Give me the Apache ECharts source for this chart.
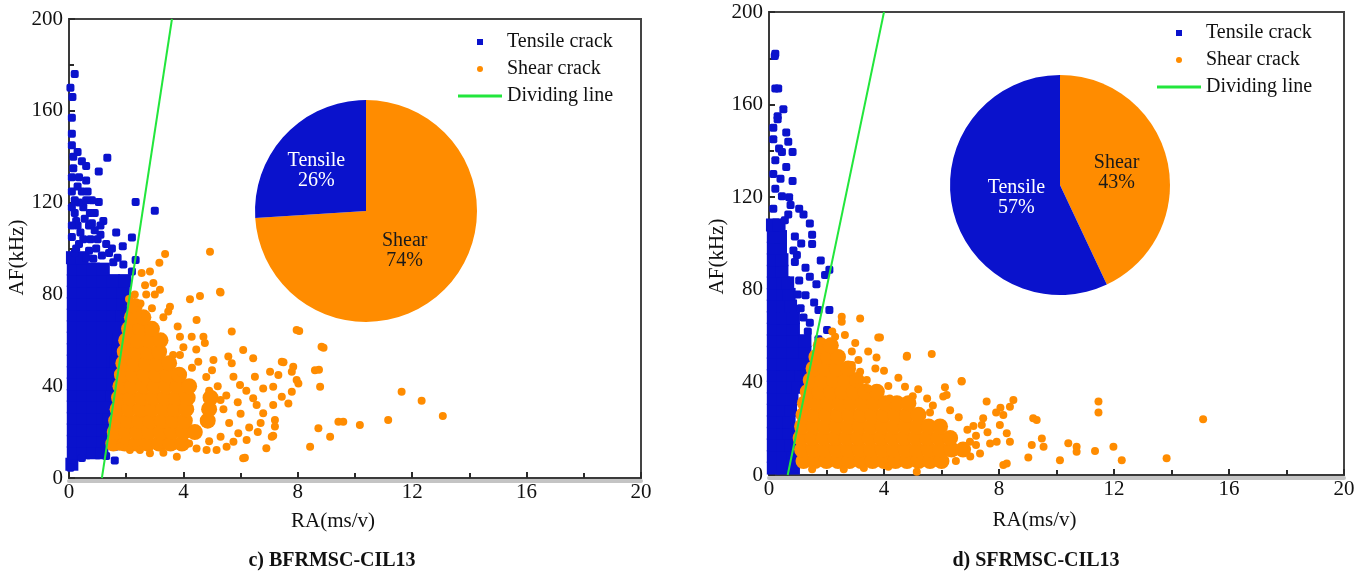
<!DOCTYPE html>
<html><head><meta charset="utf-8">
<script src="https://cdn.jsdelivr.net/npm/echarts@6/dist/echarts.min.js"></script>
<style>html,body{margin:0;padding:0;background:#fff}#c{width:1361px;height:577px}</style>
</head><body><div id="c"></div>
<script>
// ---------- DATA ----------
const xRange = [0, 20];
const yRange = [0, 200];
const captions = ['c) BFRMSC-CIL13', 'd) SFRMSC-CIL13'];
const seriesNames = ['Tensile crack', 'Shear crack', 'Dividing line'];

// Left chart (BFRMSC-CIL13) — dense regions as rows: [AF, RA, RA, ...]
const tensileDenseL = [
  [6, 0.1],
  [11, 0.15, 0.5, 0.85, 1.15],
  [16, 0.15, 0.5, 0.85, 1.2],
  [21, 0.15, 0.5, 0.85, 1.2],
  [26, 0.15, 0.5, 0.85, 1.2, 1.4],
  [31, 0.15, 0.5, 0.85, 1.2, 1.45],
  [36, 0.15, 0.5, 0.85, 1.2, 1.5],
  [41, 0.15, 0.5, 0.85, 1.2, 1.55],
  [46, 0.15, 0.5, 0.85, 1.2, 1.55],
  [51, 0.15, 0.5, 0.85, 1.2, 1.55, 1.65],
  [56, 0.15, 0.5, 0.85, 1.2, 1.55, 1.7],
  [61, 0.15, 0.5, 0.85, 1.2, 1.55, 1.75],
  [66, 0.15, 0.5, 0.85, 1.2, 1.55, 1.8],
  [71, 0.15, 0.5, 0.85, 1.2, 1.55, 1.85],
  [76, 0.15, 0.5, 0.85, 1.2, 1.55, 1.9],
  [81, 0.15, 0.5, 0.85, 1.2, 1.55, 1.9],
  [86, 0.15, 0.5, 0.85, 1.2, 1.55, 1.95],
  [91, 0.15, 0.5, 0.85, 1.2],
  [96, 0.12, 0.45]
];
const tensileSparseL = [
  [0.2,176],[0.12,166],[0.1,157],[0.1,150],[0.3,142],[0.45,138],[0.6,136],[1.34,139.5],[1.04,133.6],
  [0.1,131],[0.6,129.6],[0.1,124.8],[0.45,124.8],[0.65,124.8],[2.33,120.3],[1.04,120.3],[3.0,116.5],
  [0.2,115.5],[0.73,115.5],[0.9,115.5],[1.2,112],[1.1,110],[1.65,107],[2.2,104.8],[0.7,110],[0.9,108],
  [1.88,101],[1.4,98],[2.33,95],[0.1,118],[0.5,118],[0.3,110],[0.1,105],[0.5,104],[1.0,104],[1.3,102],
  [0.2,98],[0.7,99],[1.7,96],[1.9,93],[2.2,90],[0.45,8.7],[1.6,7.6],[1.3,9.6],[0.05,4.5],[1.6,13.6],
  [1.4,15],[0.1,145],[0.05,170],[0.15,135],[0.35,120],[0.8,121],[0.25,100],[0.6,96],
  [0.3,127],[0.25,112],[0.55,113],[0.4,107],[0.75,104],[0.95,100],[1.15,97],[0.35,102],[0.8,111],
  [0.15,140],[0.35,131],[0.1,110],[0.6,121],[1.1,106],[1.5,100],[0.85,95.5],[1.55,94],[0.2,121]
];
const shearDenseL = [
  [15, 1.55, 1.95, 2.35, 2.75, 3.15, 3.55, 3.95],
  [20, 1.6, 2.0, 2.4, 2.8, 3.2, 3.6, 4.0, 4.4],
  [25, 1.65, 2.05, 2.45, 2.85, 3.25, 3.65, 4.05, 4.85],
  [30, 1.7, 2.1, 2.5, 2.9, 3.3, 3.7, 4.1, 4.9],
  [35, 1.75, 2.15, 2.55, 2.95, 3.35, 3.75, 4.15, 4.95],
  [40, 1.8, 2.2, 2.6, 3.0, 3.4, 3.8, 4.2],
  [45, 1.85, 2.25, 2.65, 3.05, 3.45, 3.85],
  [50, 1.9, 2.3, 2.7, 3.1, 3.5],
  [55, 1.95, 2.35, 2.75, 3.15],
  [60, 2.0, 2.4, 2.8, 3.2],
  [65, 2.1, 2.5, 2.9],
  [70, 2.2, 2.6],
  [75, 2.3]
];
const shearSparseL = [
  [3.36,97.6],[4.93,98.6],[3.16,93.8],[2.83,90],[2.54,89.3],[2.95,85],[2.66,84],[3.18,82],[3.0,80],
  [4.58,79.3],[4.23,77.9],[5.28,81.2],[3.53,74.6],[3.47,72.5],[4.46,68.8],[5.69,63.8],[7.96,64.5],
  [8.83,57.2],[3.88,61.5],[4.29,61.5],[4.7,61.5],[4.75,58.8],[6.09,55.8],[3.88,53.6],[3.64,53.6],
  [4.52,50.7],[5.05,51.4],[5.57,52.9],[5.69,50],[6.44,52.2],[7.44,50.7],[7.84,48.5],[8.6,47],[8.78,39.8],
  [5.75,44.1],[5.98,40.5],[6.5,44.1],[6.79,39],[7.03,46.3],[7.14,39.8],[7.32,44.9],[7.79,46.3],[7.96,42.7],
  [8.02,41.2],[7.44,35.4],[7.79,37.6],[7.67,32.5],[6.44,34.7],[6.56,31.8],[6.79,28.2],[7.14,31.8],[7.2,25.3],
  [7.09,18],[6.21,16.6],[6.09,8.6],[8.72,21.7],[8.43,13.6],[9.13,18],[9.42,24.5],[9.59,24.5],[10.17,23.1],
  [11.16,25.3],[11.63,37.6],[12.33,33.7],[13.07,27],[5.92,19.5],[5.75,15.8],[5.51,13.6],[5.16,12.2],
  [4.81,12.2],[4.46,12.9],[3.77,9.3],[2.83,10.8],[2.48,12.2],[2.13,12.2],[1.78,13.6],[7.2,22.4],[8.9,56.8],
  [8.05,64],[8.74,47.2],[7.5,50.4],[7.14,18.4],[6.15,8.8],[5.3,80.8],[2.3,80],[2.5,76],[2.9,74],[3.3,70],
  [3.8,66],[4.0,57],[4.3,48],[4.8,44],[5.2,40],[5.5,36],[5.4,30],[5.6,24],[6.0,28],[6.3,22],[5.3,18],
  [4.9,16],[4.2,15],[3.3,11],[6.7,24],[4.45,56],[3.9,46],[5.0,47],[6.2,38],[4.9,38],[5.3,34],[5.9,33],
  [6.6,20],[6.9,13],[2.1,78],[2.4,71],[2.7,80]
];
const dividerL = [[1.15, 0], [3.6, 200]];
const pieL = [['Shear', 74], ['Tensile', 26]];

// Right chart (SFRMSC-CIL13)
const tensileDenseR = [
  [3, 0.15, 0.5, 0.85],
  [8, 0.15, 0.5, 0.85],
  [13, 0.15, 0.5, 0.75],
  [18, 0.15, 0.5, 0.7],
  [23, 0.15, 0.5, 0.7],
  [28, 0.15, 0.5, 0.75],
  [33, 0.15, 0.5, 0.8],
  [38, 0.15, 0.5, 0.85, 1.0],
  [43, 0.15, 0.5, 0.85, 1.1],
  [48, 0.15, 0.5, 0.85, 1.2],
  [53, 0.15, 0.5, 0.85, 1.25],
  [58, 0.15, 0.5, 0.85, 1.25],
  [63, 0.15, 0.5, 0.85],
  [68, 0.15, 0.5, 0.85],
  [73, 0.15, 0.5, 0.75],
  [78, 0.15, 0.5, 0.7],
  [83, 0.15, 0.5, 0.65],
  [88, 0.15, 0.45],
  [93, 0.15, 0.45],
  [98, 0.15, 0.4],
  [103, 0.15, 0.4],
  [108, 0.12, 0.35]
];
const tensileSparseR = [
  [0.22,182],[0.2,181],[0.22,167],[0.32,167],[0.3,153.7],[0.6,148],[0.67,144],[0.45,139.5],[0.82,139.5],
  [0.22,136],[0.6,133],[0.82,127],[0.22,123.6],[0.45,120.4],[0.75,116.6],[1.05,115],[0.67,112.5],[1.2,112.5],
  [1.42,108.6],[1.5,103.8],[1.5,99.8],[0.9,103],[1.12,100],[0.97,95],[1.8,92.7],[1.95,86.4],[2.1,88.7],
  [1.27,89.5],[1.42,85.6],[1.65,82.4],[1.27,77.6],[1.57,74.5],[1.72,71.3],[2.1,71.3],[1.2,68],[1.42,65.8],
  [2.02,62.6],[1.72,58.6],[0.15,145],[0.35,141],[0.15,130],[0.4,128],[0.15,115],[0.55,110],[0.3,155],
  [0.15,150],[0.5,158],[0.9,92],[1.05,84],[1.0,78],[1.1,72],[0.85,97],[1.35,62],[0.7,120]
];
const shearDenseR = [
  [6, 1.2, 1.6, 2.0, 2.4, 2.8, 3.2, 3.6, 4.0, 4.4, 4.8, 5.2, 5.6, 6.0],
  [11, 1.15, 1.55, 1.95, 2.35, 2.75, 3.15, 3.55, 3.95, 4.35, 4.75, 5.15, 5.55, 5.95, 6.35, 6.75],
  [16, 1.1, 1.5, 1.9, 2.3, 2.7, 3.1, 3.5, 3.9, 4.3, 4.7, 5.1, 5.5, 5.9, 6.3],
  [21, 1.15, 1.55, 1.95, 2.35, 2.75, 3.15, 3.55, 3.95, 4.35, 4.75, 5.15, 5.55, 5.95],
  [26, 1.2, 1.6, 2.0, 2.4, 2.8, 3.2, 3.6, 4.0, 4.4, 4.8, 5.2],
  [31, 1.25, 1.65, 2.05, 2.45, 2.85, 3.25, 3.65, 4.05, 4.45, 4.85],
  [36, 1.35, 1.75, 2.15, 2.55, 2.95, 3.35, 3.75],
  [41, 1.45, 1.85, 2.25, 2.65, 3.05],
  [46, 1.55, 1.95, 2.35, 2.75],
  [51, 1.65, 2.05, 2.4],
  [56, 1.8, 2.15]
];
const shearSparseR = [
  [2.53,68.4],[3.17,67.6],[2.53,66.2],[2.3,59.7],[2.64,60.5],[3.86,59.4],[2.88,53.3],[3.45,53.3],[3.74,50.8],
  [3.11,49.7],[4.79,51.1],[5.66,52.3],[2.88,47.5],[3.17,44.6],[2.82,44.6],[3.11,41],[3.4,41],[3.45,37.4],
  [4.15,38.4],[4.73,38.1],[5.19,37],[6.12,37.9],[6.18,34.6],[6.7,40.6],[6.06,33.9],[7.57,31.7],[8.5,32.4],
  [8.38,29.5],[8.15,25.9],[8.03,21.6],[7.45,24.5],[7.4,21.6],[7.11,21.2],[9.19,24.5],[9.31,23.8],[11.46,31.7],
  [11.46,27],[15.1,24.1],[9.14,13],[9.55,12.2],[9.49,15.8],[10.41,13.7],[10.7,12.2],[10.7,10],[11.34,10.4],
  [11.98,12.2],[12.27,6.4],[13.83,7.2],[10.12,6.4],[9.02,7.6],[8.27,5],[8.15,4.3],[7.34,9.3],[7.69,13.6],
  [7.92,14.4],[8.27,18],[8.38,14.4],[6.76,11.5],[6.99,14.4],[5.14,1.4],[4.15,3.6],[3.8,59.4],[4.8,51.5],
  [6.7,40.4],[7.9,27],[8.05,29],[7.2,17],[6.6,25],[6.3,28],[5.7,30],[5.5,33],[5.0,34],[4.5,42],[4.0,45],
  [3.7,46],[2.2,62],[3.0,57],[7.0,8],[6.5,6],[2.6,2.5],[1.5,2.5],[3.3,3],[5.6,27],[6.9,19.5],[4.2,33],
  [7.6,18.5],[7.2,13]
];
const dividerR = [[0.65, 0], [4.0, 200]];
const pieR = [['Shear', 43], ['Tensile', 57]];

// ---------- STYLE ----------
const BLUE = '#0a12cc', ORANGE = '#ff8c00', GREEN = '#22e63c', INK = '#111';
const FONT = '"Liberation Serif", "Times New Roman", serif';

function rowsToPairs(rows) {
  const out = [];
  rows.forEach(r => { for (let i = 1; i < r.length; i++) out.push([r[i], r[0]]); });
  return out;
}

const panels = [
  { grid: { left: 69, top: 19, width: 572, height: 459 }, pieCenter: [366, 211], pieR: 111,
    tD: tensileDenseL, tS: tensileSparseL, sD: shearDenseL, sS: shearSparseL, div: dividerL, pie: pieL,
    legend: { left: 458, top: 32 }, xGap: 33, yGap: 40, yPad: [0, 18, 0, 0],
    pieLabelPad: { Shear: [0, 8, 10, 0], Tensile: [0, 14, 0, 0] }, caption: [332, 561] },
  { grid: { left: 769, top: 12, width: 575, height: 463 }, pieCenter: [1060, 185], pieR: 110,
    tD: tensileDenseR, tS: tensileSparseR, sD: shearDenseR, sS: shearSparseR, div: dividerR, pie: pieR,
    legend: { left: 1157, top: 23 }, xGap: 35, yGap: 39, yPad: [0, 26, 0, 0],
    pieLabelPad: { Shear: [0, 0, 0, 0], Tensile: [0, 0, 40, 26] }, caption: [1036, 561] }
];

const grids = [], xAxes = [], yAxes = [], series = [], legends = [], graphics = [];
const axisCommon = {
  axisLine: { show: true, onZero: false, lineStyle: { color: '#3a3a3a', width: 2 } },
  axisTick: { show: true, inside: true, length: 6, lineStyle: { color: '#2a2a2a', width: 2 } },
  minorTick: { show: true, splitNumber: 2, length: 5, lineStyle: { color: '#2a2a2a', width: 2 } },
  splitLine: { show: false },
  axisLabel: { fontFamily: FONT, fontSize: 21, color: INK }
};

panels.forEach((p, i) => {
  grids.push(Object.assign({ show: true, backgroundColor: '#fff', borderColor: '#444', borderWidth: 2,
    outerBoundsMode: 'none' }, p.grid));
  // gray shading band under the bottom axis
  xAxes.push({
    type: 'value', gridIndex: i, min: xRange[0], max: xRange[1], position: 'bottom', offset: 3,
    axisLine: { show: true, onZero: false, lineStyle: { color: '#c4c4c4', width: 4 } },
    axisTick: { show: false }, axisLabel: { show: false }, splitLine: { show: false }
  });
  xAxes.push(Object.assign({}, axisCommon, {
    type: 'value', gridIndex: i, min: xRange[0], max: xRange[1], interval: 4, position: 'bottom',
    name: 'RA(ms/v)', nameLocation: 'middle', nameGap: p.xGap,
    nameTextStyle: { fontFamily: FONT, fontSize: 21, color: INK, padding: [0, 44, 0, 0] },
    axisLabel: Object.assign({}, axisCommon.axisLabel, { margin: 4 })
  }));
  yAxes.push(Object.assign({}, axisCommon, {
    type: 'value', gridIndex: i, min: yRange[0], max: yRange[1], interval: 40,
    name: 'AF(kHz)', nameLocation: 'middle', nameGap: p.yGap,
    nameTextStyle: { fontFamily: FONT, fontSize: 21, color: INK, padding: p.yPad },
    axisLabel: Object.assign({}, axisCommon.axisLabel, { margin: 6 })
  }));
  const common = { xAxisIndex: i * 2 + 1, yAxisIndex: i, silent: true, animation: false };
  series.push(Object.assign({ type: 'scatter', name: seriesNames[0], data: rowsToPairs(p.tD),
    symbol: 'rect', symbolSize: 13, itemStyle: { color: BLUE, opacity: 1 } }, common));
  series.push(Object.assign({ type: 'scatter', name: seriesNames[0], data: p.tS,
    symbol: 'roundRect', symbolSize: 8, itemStyle: { color: BLUE, opacity: 1 } }, common));
  series.push(Object.assign({ type: 'scatter', name: seriesNames[1], data: rowsToPairs(p.sD),
    symbol: 'circle', symbolSize: 16, itemStyle: { color: ORANGE, opacity: 1 } }, common));
  series.push(Object.assign({ type: 'scatter', name: seriesNames[1], data: p.sS,
    symbol: 'circle', symbolSize: 8, itemStyle: { color: ORANGE, opacity: 1 } }, common));
  series.push(Object.assign({ type: 'line', name: seriesNames[2], data: p.div, symbol: 'none',
    lineStyle: { color: GREEN, width: 2 }, itemStyle: { color: GREEN }, z: 5 }, common));
  series.push({
    type: 'pie', silent: true, animation: false, center: p.pieCenter, radius: p.pieR,
    startAngle: 90, clockwise: true, z: 6,
    itemStyle: { borderWidth: 0 },
    labelLine: { show: false }, emphasis: { disabled: true },
    label: { show: true, position: 'inside', fontFamily: FONT, fontSize: 20, lineHeight: 20,
      formatter: d => d.name + '\n' + d.value + '%' },
    data: p.pie.map(([n, v]) => ({
      name: n, value: v,
      itemStyle: { color: n === 'Shear' ? ORANGE : BLUE },
      label: { color: n === 'Shear' ? '#1a1a1a' : '#fff', padding: p.pieLabelPad[n] }
    }))
  });
  legends.push({
    orient: 'vertical', left: p.legend.left, top: p.legend.top, padding: 0,
    itemWidth: 44, itemHeight: 6, itemGap: 7, selectedMode: false,
    textStyle: { fontFamily: FONT, fontSize: 20, color: INK },
    data: [
      { name: seriesNames[0], icon: 'path://M0,0L10,0L10,10L0,10Z' },
      { name: seriesNames[1], icon: 'circle' },
      { name: seriesNames[2], icon: 'path://M0,0L44,0L44,3L0,3Z' }
    ]
  });
  graphics.push({ type: 'text', x: p.caption[0], y: p.caption[1],
    style: { text: captions[i], font: 'bold 20px ' + FONT, fill: INK, align: 'center', verticalAlign: 'middle',
      textAlign: 'center', textVerticalAlign: 'middle' } });
});

const chart = echarts.init(document.getElementById('c'), null, { renderer: 'canvas' });
chart.setOption({
  backgroundColor: '#fff', animation: false,
  grid: grids, xAxis: xAxes, yAxis: yAxes, series: series, legend: legends, graphic: graphics
});
</script></body></html>
